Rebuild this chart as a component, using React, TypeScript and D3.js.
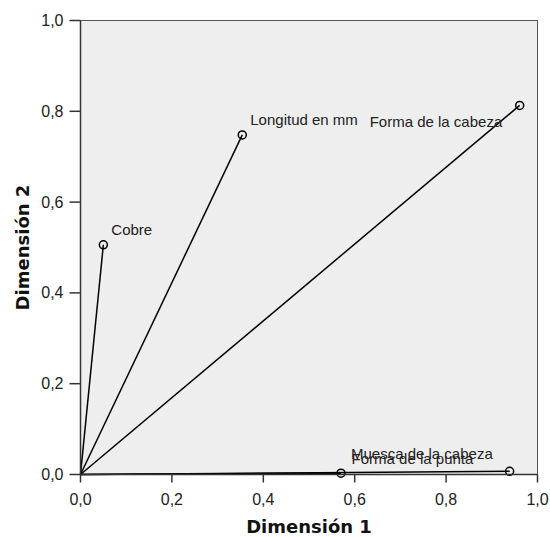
import React from "react";
import * as d3 from "d3";

const variables = ["Cobre", "Longitud en mm", "Forma de la cabeza", "Muesca de la cabeza", "Forma de la punta"];
const dim1 = [0.05, 0.354, 0.961, 0.57, 0.939];
const dim2 = [0.506, 0.748, 0.813, 0.003, 0.007];
const labelDx = [8, 8, -150, 10, -158];
const labelDy = [-10, -10, 22, -14.5, -7.5];
const ticks = [0, 0.2, 0.4, 0.6, 0.8, 1.0];

const W = 550, H = 537;
const L = 80.5, R = 537.5, T = 20.5, B = 474.5;
const font = "'Liberation Sans', Arial, sans-serif";
const titleFont = "'DejaVu Sans', sans-serif";

export default function App() {
  const x = d3.scaleLinear().domain([0, 1]).range([L, R]);
  const y = d3.scaleLinear().domain([0, 1]).range([B, T]);
  const fmt = (v: number) => d3.format(".1f")(v).replace(".", ",");
  return (
    <svg width={W} height={H} style={{ position: "absolute", left: 0, top: 0, background: "#fff" }}>
      <rect x={L} y={T} width={R - L} height={B - T} fill="#eeeeee" stroke="#555" strokeWidth={1} />
      {variables.map((v, i) => (
        <line key={"l" + i} x1={x(0)} y1={y(0)} x2={x(dim1[i])} y2={y(dim2[i])} stroke="#000" strokeWidth={1.5} />
      ))}
      {variables.map((v, i) => (
        <circle key={"c" + i} cx={x(dim1[i])} cy={y(dim2[i])} r={4} fill="none" stroke="#000" strokeWidth={1.5} />
      ))}
      {variables.map((v, i) => (
        <text key={"t" + i} x={x(dim1[i]) + labelDx[i]} y={y(dim2[i]) + labelDy[i]} fontFamily={font} fontSize={15} fill="#222">
          {v}
        </text>
      ))}
      <line x1={L} y1={T} x2={L} y2={B} stroke="#333" strokeWidth={1.5} />
      <line x1={L} y1={B} x2={R} y2={B} stroke="#333" strokeWidth={1.5} />
      {ticks.map((t) => (
        <g key={"xt" + t}>
          <line x1={x(t)} y1={B} x2={x(t)} y2={B + 8} stroke="#333" strokeWidth={1.5} />
          <text x={x(t)} y={B + 30.5} textAnchor="middle" fontFamily={font} fontSize={16} fill="#222">{fmt(t)}</text>
        </g>
      ))}
      {ticks.map((t) => (
        <g key={"yt" + t}>
          <line x1={L - 11} y1={y(t)} x2={L} y2={y(t)} stroke="#333" strokeWidth={1.5} />
          <text x={L - 17} y={y(t) + 5.5} textAnchor="end" fontFamily={font} fontSize={16} fill="#222">{fmt(t)}</text>
        </g>
      ))}
      <text x={(L + R) / 2} y={533} textAnchor="middle" fontFamily={titleFont} fontSize={18} fontWeight="bold" fill="#111">Dimensión 1</text>
      <text transform={`translate(29,${(T + B) / 2}) rotate(-90)`} textAnchor="middle" fontFamily={titleFont} fontSize={18} fontWeight="bold" fill="#111">Dimensión 2</text>
    </svg>
  );
}
